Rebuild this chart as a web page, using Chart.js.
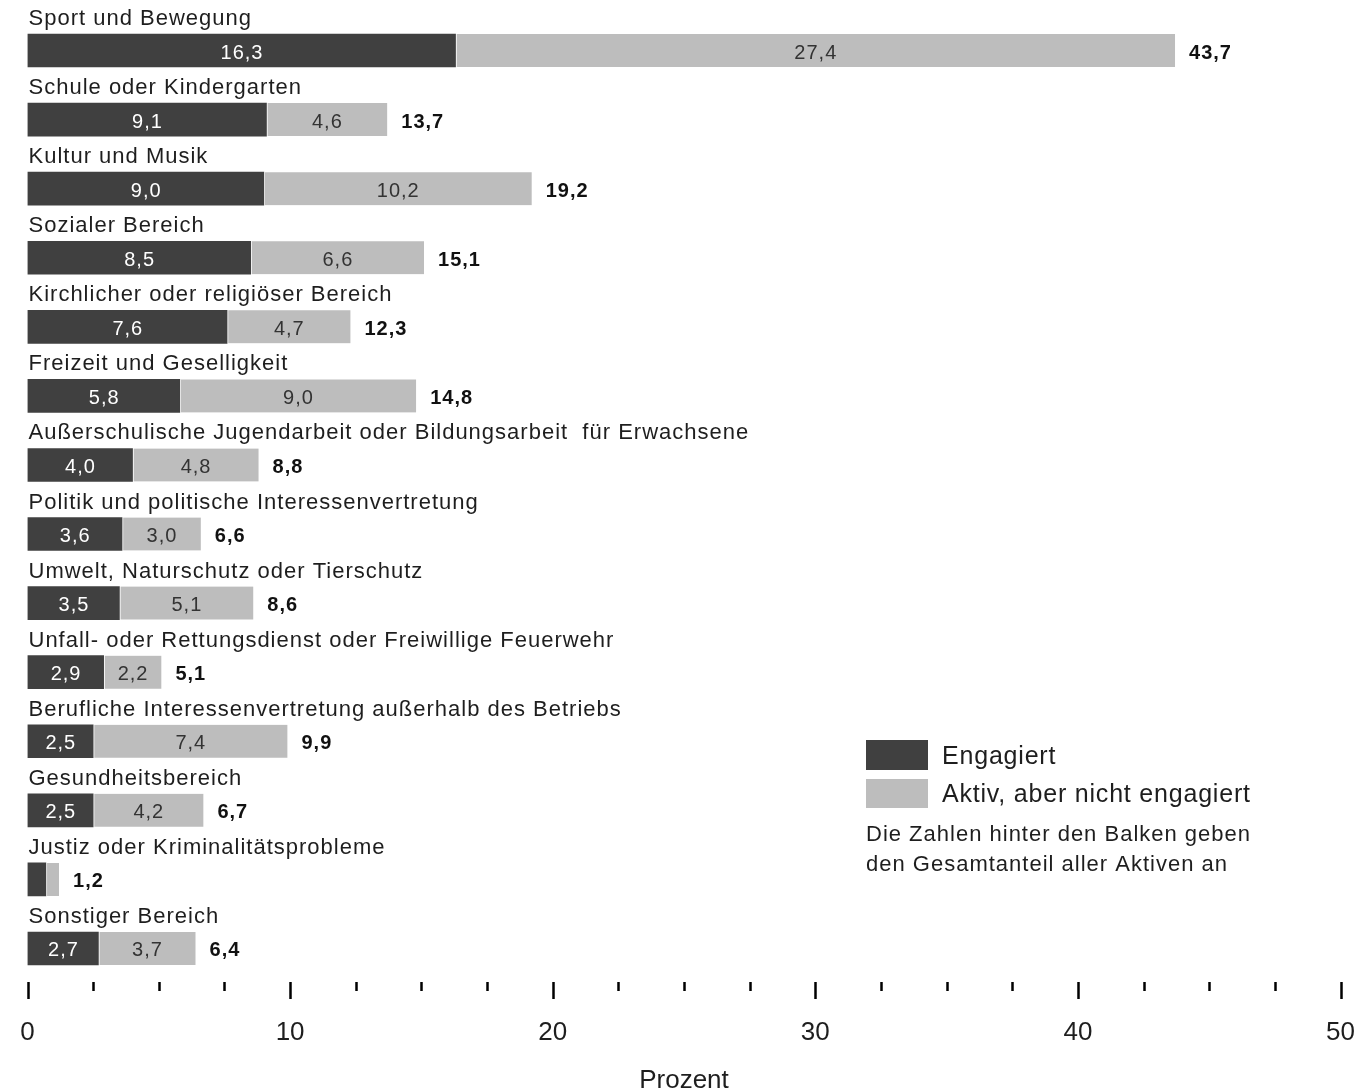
<!DOCTYPE html>
<html>
<head>
<meta charset="utf-8">
<script src="https://cdn.jsdelivr.net/npm/chart.js@4.4.1/dist/chart.umd.min.js"></script>
<style>
  html, body { margin: 0; padding: 0; background: #fff; }
  #wrap { width: 1360px; height: 1091px; position: relative; }
</style>
</head>
<body>
<div id="wrap"><canvas id="chart"></canvas></div>
<script>
const categories = [
  'Sport und Bewegung',
  'Schule oder Kindergarten',
  'Kultur und Musik',
  'Sozialer Bereich',
  'Kirchlicher oder religiöser Bereich',
  'Freizeit und Geselligkeit',
  'Außerschulische Jugendarbeit oder Bildungsarbeit  für Erwachsene',
  'Politik und politische Interessenvertretung',
  'Umwelt, Naturschutz oder Tierschutz',
  'Unfall- oder Rettungsdienst oder Freiwillige Feuerwehr',
  'Berufliche Interessenvertretung außerhalb des Betriebs',
  'Gesundheitsbereich',
  'Justiz oder Kriminalitätsprobleme',
  'Sonstiger Bereich'
];
const engagiert = [16.3, 9.1, 9.0, 8.5, 7.6, 5.8, 4.0, 3.6, 3.5, 2.9, 2.5, 2.5, 0.7, 2.7];
const aktiv     = [27.4, 4.6, 10.2, 6.6, 4.7, 9.0, 4.8, 3.0, 5.1, 2.2, 7.4, 4.2, 0.5, 3.7];
const gesamt    = [43.7, 13.7, 19.2, 15.1, 12.3, 14.8, 8.8, 6.6, 8.6, 5.1, 9.9, 6.7, 1.2, 6.4];
const xTicks = [0, 10, 20, 30, 40, 50];

const DARK = '#404040';
const LIGHT = '#bdbdbd';
const FONT = "'Liberation Sans', Arial, sans-serif";

const fmt = v => v.toFixed(1).replace('.', ',');

// Kategorien über den Balken, Werte in den Balken, Summen dahinter
const labelPlugin = {
  id: 'labels',
  afterDatasetsDraw(chart) {
    const { ctx } = chart;
    const x = chart.scales.x;
    const y = chart.scales.y;
    ctx.save();
    ctx.letterSpacing = '1px';
    categories.forEach((name, i) => {
      const cy = y.getPixelForValue(i);
      ctx.font = `22px ${FONT}`;
      ctx.fillStyle = '#1e1e1e';
      ctx.textAlign = 'left';
      ctx.textBaseline = 'alphabetic';
      ctx.fillText(name, x.left + 1, cy - 25.5);

      ctx.font = `20px ${FONT}`;
      ctx.textAlign = 'center';
      if (engagiert[i] >= 1) {
        ctx.fillStyle = '#ffffff';
        ctx.fillText(fmt(engagiert[i]), x.getPixelForValue(engagiert[i] / 2) + 0.5, cy + 8);
      }
      if (aktiv[i] >= 1) {
        ctx.fillStyle = '#333333';
        ctx.fillText(fmt(aktiv[i]), x.getPixelForValue(engagiert[i] + aktiv[i] / 2) + 0.5, cy + 8);
      }
      ctx.font = `bold 20px ${FONT}`;
      ctx.textAlign = 'left';
      ctx.fillStyle = '#111111';
      ctx.fillText(fmt(gesamt[i]), x.getPixelForValue(gesamt[i]) + 14, cy + 8);
    });
    ctx.restore();
  },
  afterDraw(chart) {
    const { ctx } = chart;
    const x = chart.scales.x;
    const top = chart.chartArea.bottom - 1;
    ctx.save();
    // Achsenstriche: lang bei 10er-Schritten, kurz dazwischen
    ctx.strokeStyle = '#000';
    ctx.lineWidth = 2.5;
    for (let v = 0; v <= 50; v += 2.5) {
      const px = Math.round(x.getPixelForValue(v)) + 0.5;
      const len = xTicks.includes(v) ? 17 : 9;
      ctx.beginPath();
      ctx.moveTo(px, top);
      ctx.lineTo(px, top + len);
      ctx.stroke();
    }
    // Legende
    ctx.fillStyle = DARK;
    ctx.fillRect(866, 740, 62, 30);
    ctx.fillStyle = LIGHT;
    ctx.fillRect(866, 779, 62, 29);
    ctx.fillStyle = '#1e1e1e';
    ctx.font = `25px ${FONT}`;
    ctx.textAlign = 'left';
    ctx.textBaseline = 'alphabetic';
    ctx.letterSpacing = '0.8px';
    ctx.fillText('Engagiert', 942, 764);
    ctx.fillText('Aktiv, aber nicht engagiert', 942, 802);
    ctx.font = `22px ${FONT}`;
    ctx.letterSpacing = '1px';
    ctx.fillText('Die Zahlen hinter den Balken geben', 866, 841);
    ctx.fillText('den Gesamtanteil aller Aktiven an', 866, 871);
    ctx.restore();
  }
};

new Chart(document.getElementById('chart'), {
  type: 'bar',
  data: {
    labels: categories,
    datasets: [
      {
        label: 'Engagiert',
        data: engagiert,
        backgroundColor: DARK,
        borderWidth: 0,
        barThickness: 33
      },
      {
        label: 'Aktiv, aber nicht engagiert',
        data: aktiv,
        backgroundColor: LIGHT,
        borderColor: '#ffffff',
        borderWidth: { left: 1.5, right: 0, top: 0, bottom: 0 },
        borderSkipped: false,
        barThickness: 33
      }
    ]
  },
  options: {
    indexAxis: 'y',
    responsive: true,
    maintainAspectRatio: false,
    animation: false,
    layout: { padding: { left: 27.5, right: 19.5, top: 16, bottom: 0 } },
    scales: {
      x: {
        stacked: true,
        min: 0,
        max: 50,
        border: { display: false },
        grid: { display: false, drawTicks: false },
        ticks: {
          stepSize: 10,
          autoSkip: false,
          maxRotation: 0,
          padding: 34,
          color: '#1e1e1e',
          font: { size: 26, family: FONT }
        },
        title: {
          display: true,
          text: 'Prozent',
          color: '#1e1e1e',
          font: { size: 26, family: FONT },
          padding: { top: 0, bottom: -5 }
        },
        afterFit(scale) {
          scale.paddingLeft = 0;
          scale.paddingRight = 0;
          scale.height = 108;
        }
      },
      y: {
        stacked: true,
        display: false
      }
    },
    plugins: {
      legend: { display: false },
      tooltip: { enabled: false }
    }
  },
  plugins: [labelPlugin]
});
</script>
</body>
</html>
